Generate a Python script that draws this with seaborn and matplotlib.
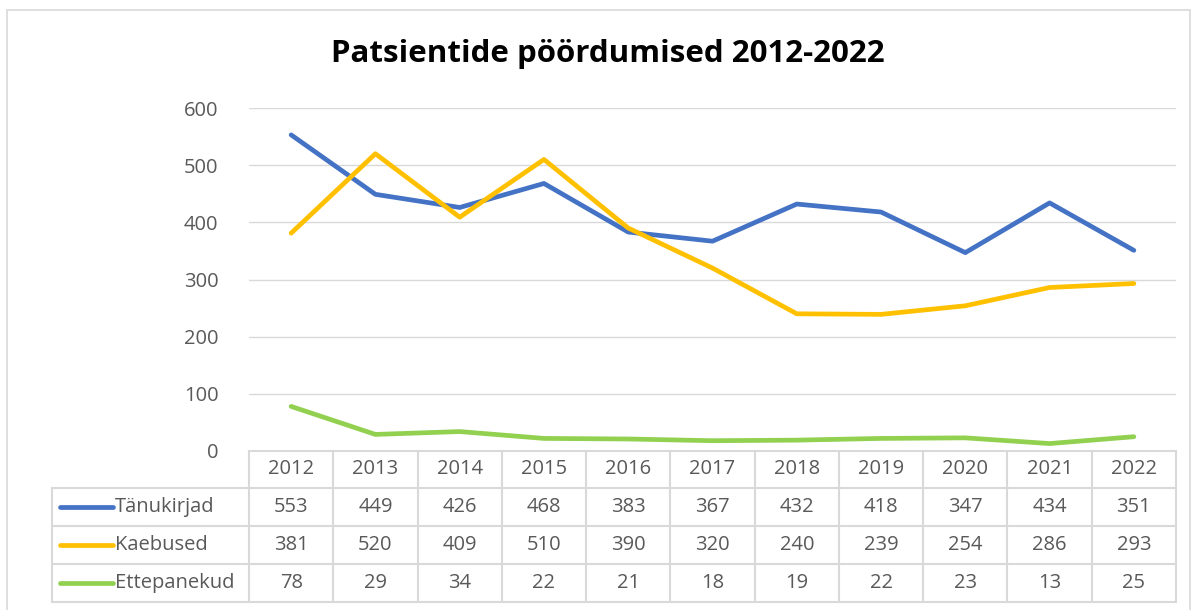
import numpy as np
import pandas as pd
import matplotlib.pyplot as plt
import seaborn as sns
from matplotlib.patches import Rectangle

years = ['2012', '2013', '2014', '2015', '2016', '2017', '2018', '2019', '2020', '2021', '2022']
series_names = ['Tänukirjad', 'Kaebused', 'Ettepanekud']
tanukirjad = [553, 449, 426, 468, 383, 367, 432, 418, 347, 434, 351]
kaebused = [381, 520, 409, 510, 390, 320, 240, 239, 254, 286, 293]
ettepanekud = [78, 29, 34, 22, 21, 18, 19, 22, 23, 13, 25]
colors = ['#4472C4', '#FFC000', '#92D050']

rows = [tanukirjad, kaebused, ettepanekud]
df = pd.DataFrame({
    'pos': list(range(len(years))) * 3,
    'value': tanukirjad + kaebused + ettepanekud,
    'series': [s for s in series_names for _ in years],
})

sns.set_style('white')
plt.rcParams['font.family'] = ['Open Sans', 'DejaVu Sans']
txt = '#595959'
grid = '#D9D9D9'
fs = 14.5

W, H = 1196, 610
fig = plt.figure(figsize=(W / 100, H / 100), dpi=100)

# outer chart border
fig.patches.append(Rectangle((7 / W, -0.01), (1190 - 7) / W, 1 - 10 / H + 0.01,
                             transform=fig.transFigure, fill=False,
                             edgecolor=grid, linewidth=1.2))

x0, x1 = 249, 1176
y_top, y_zero = 108, 451
ax = fig.add_axes([x0 / W, 1 - y_zero / H, (x1 - x0) / W, (y_zero - y_top) / H])
sns.lineplot(data=df, x='pos', y='value', hue='series', palette=colors,
             linewidth=3.4, legend=False, ax=ax)
ax.set_xlim(-0.5, len(years) - 0.5)
ax.set_ylim(0, 600)
ax.set_yticks(range(0, 601, 100))
ax.yaxis.grid(True, color=grid, linewidth=1)
ax.set_axisbelow(True)
for s in ax.spines.values():
    s.set_visible(False)
ax.set_xticks([])
ax.set_xlabel('')
ax.set_ylabel('')
ax.tick_params(axis='y', labelsize=fs, labelcolor=txt, length=0, pad=22)

fig.text(0.508, 1 - 54 / H, 'Patsientide pöördumised 2012-2022', ha='center', va='center',
         fontsize=22.5, fontweight='bold', color='black')

# data table
tx0 = 52
row_edges = [451, 488, 526, 564, 602]
col_w = (x1 - x0) / len(years)
tab = fig.add_axes([0, 0, 1, 1])
tab.set_xlim(0, W)
tab.set_ylim(H, 0)
tab.axis('off')
lw = 1.5
# horizontal lines
tab.plot([x0, x1], [row_edges[0]] * 2, color=grid, lw=lw)
for y in row_edges[1:]:
    tab.plot([tx0, x1], [y, y], color=grid, lw=lw)
# vertical lines
tab.plot([tx0, tx0], [row_edges[1], row_edges[-1]], color=grid, lw=lw)
for i in range(len(years) + 1):
    xv = x0 + i * col_w
    tab.plot([xv, xv], [row_edges[0], row_edges[-1]], color=grid, lw=lw)
for i, yr in enumerate(years):
    xc = x0 + (i + 0.5) * col_w
    tab.text(xc, (row_edges[0] + row_edges[1]) / 2, yr, ha='center', va='center',
             fontsize=fs, color=txt)
for r, (name, vals, c) in enumerate(zip(series_names, rows, colors)):
    yc = (row_edges[r + 1] + row_edges[r + 2]) / 2
    tab.plot([60, 113], [yc, yc], color=c, lw=3.4, solid_capstyle='round')
    tab.text(115, yc, name, ha='left', va='center', fontsize=fs, color=txt)
    for i, v in enumerate(vals):
        xc = x0 + (i + 0.5) * col_w
        tab.text(xc, yc, str(v), ha='center', va='center', fontsize=fs, color=txt)

fig.savefig('out.png', dpi=100)
